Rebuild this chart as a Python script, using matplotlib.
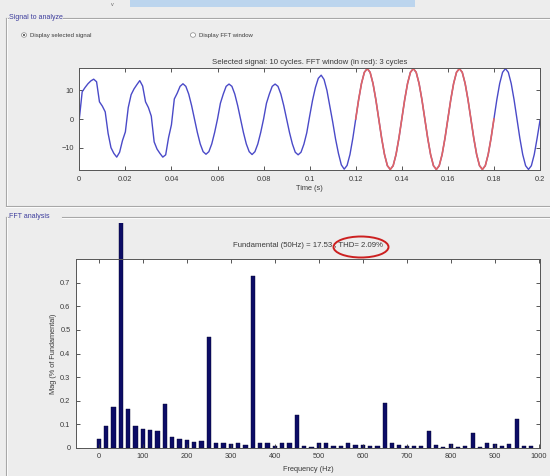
import numpy as np
import matplotlib
matplotlib.use("Agg")
import matplotlib.pyplot as plt
from matplotlib.patches import Ellipse, Rectangle, Circle
from matplotlib.lines import Line2D

plt.rcParams['font.family'] = ['Liberation Sans', 'DejaVu Sans']

# ---------------- data ----------------
# time signal, sampled every 1.25 ms from 0 to 0.2 s (values read from the picture)
sample_step_s = 0.00125
cycle1 = [0, 9.5, 11, 12.3, 13.3, 13.9, 13, 6, 4.5, 2.5, -5, -10, -12, -13.3, -11.6, -7.5]
cycle2 = [-4.5, 4, 8.5, 10.5, 12, 13.4, 11.5, 6, 4, 1, -8, -10.5, -12, -13.3, -12.5, -6.5]
cycle3 = [-2, 7, 9, 11.4, 12.3, 11.4, 8.7, 4.7, 0, -4.7, -8.7, -11.4, -12.3, -11.4, -8.7, -4.7]
cycle4 = [0, 5.5, 8.7, 11.4, 12.2, 11.4, 8.7, 4.7, 0, -4.7, -8.7, -11.4, -12.4, -11.4, -8.7, -4.7]
cycle5 = [0, 5.5, 8.7, 11.4, 12.2, 11.4, 8.7, 4.7, 0, -4.7, -8.7, -11.6, -12.5, -11.6, -8.8, -4.8]
cycle6 = [1, 6.5, 11, 14.2, 15.3, 13.8, 10, 4.5, -1, -7, -12, -16, -17.5, -16.2, -12.4, -6.7]
cycle7 = [0, 6.7, 12.4, 16.3, 17.6, 16.3, 12.4, 6.7, 0, -6.7, -12.4, -16.3, -17.6, -16.3, -12.4, -6.7]
cycle8 = [0, 6.7, 12.4, 16.3, 17.6, 16.3, 12.4, 6.7, 0, -6.7, -12.4, -16.3, -17.6, -16.3, -12.4, -6.7]
cycle9 = [0, 6.7, 12.4, 16.3, 17.6, 16.3, 12.4, 6.7, 0, -6.7, -12.4, -16.3, -17.6, -16.3, -12.4, -6.7]
cycle10 = [0, 6.7, 12.4, 16.3, 17.6, 16.3, 12.4, 6.7, 0, -6.7, -12.4, -16.3, -17.6, -16.3, -12.4, -6.7]
last_sample = [-0.5]
signal = (cycle1 + cycle2 + cycle3 + cycle4 + cycle5 + cycle6 + cycle7
          + cycle8 + cycle9 + cycle10 + last_sample)
time_s = np.arange(len(signal)) * sample_step_s
fft_window_s = (0.12, 0.18)

# FFT spectrum (% of fundamental), resolution 50/3 Hz
fundamental_hz = 50
window_cycles = 3
mag_pct = [0.037, 0.093, 0.172, 100, 0.164, 0.094, 0.079, 0.076, 0.070, 0.186,
           0.044, 0.037, 0.031, 0.023, 0.028, 0.470, 0.018, 0.020, 0.017, 0.020,
           0.011, 0.728, 0.018, 0.018, 0.008, 0.020, 0.021, 0.138, 0.007, 0.005,
           0.020, 0.018, 0.008, 0.008, 0.018, 0.011, 0.010, 0.008, 0.008, 0.188,
           0.018, 0.011, 0.008, 0.008, 0.008, 0.070, 0.010, 0.004, 0.014, 0.004,
           0.008, 0.062, 0.004, 0.018, 0.014, 0.008, 0.015, 0.123, 0.006, 0.006]
freq_hz = np.arange(len(mag_pct)) * fundamental_hz / window_cycles

time_ticks = [0, 0.02, 0.04, 0.06, 0.08, 0.1, 0.12, 0.14, 0.16, 0.18, 0.2]
time_ticklabels = ['0', '0.02', '0.04', '0.06', '0.08', '0.1', '0.12', '0.14', '0.16', '0.18', '0.2']
sig_yticks = [-10, 0, 10]
freq_ticks = [0, 100, 200, 300, 400, 500, 600, 700, 800, 900, 1000]
mag_yticks = [0, 0.1, 0.2, 0.3, 0.4, 0.5, 0.6, 0.7]
mag_yticklabels = ['0', '0.1', '0.2', '0.3', '0.4', '0.5', '0.6', '0.7']

title_top = 'Selected signal: 10 cycles. FFT window (in red): 3 cycles'
title_bottom = 'Fundamental (50Hz) = 17.53 , THD= 2.09%'

# ---------------- figure ----------------
W, H = 550, 476
BG = '#ededed'
fig = plt.figure(figsize=(W / 100, H / 100), dpi=100, facecolor=BG)

def fx(px):
    return px / W

def fy(py):
    return 1 - py / H

TXT = '#3a3a3a'
FS = 5.3

# top decoration strip
fig.add_artist(Rectangle((fx(130), fy(7)), fx(285), 7 / H, transform=fig.transFigure,
                         facecolor='#bcd5ee', edgecolor='none'))
fig.text(fx(112), fy(4), 'v', fontsize=4, color='#666666', ha='center', va='center')

# panels
PCOL = '#a8a8a8'
def hline(x0, x1, y):
    fig.add_artist(Line2D([fx(x0), fx(x1)], [fy(y), fy(y)], transform=fig.transFigure,
                          color=PCOL, lw=0.8))
    fig.add_artist(Line2D([fx(x0), fx(x1)], [fy(y + 1), fy(y + 1)], transform=fig.transFigure,
                          color='white', lw=0.6))

def vline(x, y0, y1):
    fig.add_artist(Line2D([fx(x), fx(x)], [fy(y0), fy(y1)], transform=fig.transFigure,
                          color=PCOL, lw=0.8))
    fig.add_artist(Line2D([fx(x + 1), fx(x + 1)], [fy(y0), fy(y1)], transform=fig.transFigure,
                          color='white', lw=0.6))

hline(6, 8, 18); hline(63, 550, 18); vline(6, 18, 206); hline(6, 550, 206)
hline(6, 8, 217); hline(62, 550, 217); vline(6, 217, 476)
fig.text(fx(9), fy(17.5), 'Signal to analyze', fontsize=5, color='#3c3c9c', va='center', ha='left')
fig.text(fx(9), fy(216.5), 'FFT analysis', fontsize=5, color='#3c3c9c', va='center', ha='left')

# radio buttons
fig.add_artist(Circle((fx(24), fy(35)), 2.6 / W, transform=fig.transFigure,
                      facecolor='white', edgecolor='#888888', lw=0.5))
fig.add_artist(Circle((fx(24), fy(35)), 1.1 / W, transform=fig.transFigure,
                      facecolor='#444444', edgecolor='none'))
fig.add_artist(Circle((fx(193), fy(35)), 2.6 / W, transform=fig.transFigure,
                      facecolor='white', edgecolor='#888888', lw=0.5))
fig.text(fx(30), fy(35), 'Display selected signal', fontsize=4.3, color=TXT, va='center')
fig.text(fx(199), fy(35), 'Display FFT window', fontsize=4.3, color=TXT, va='center')

# ---------------- top axes ----------------
ax1 = fig.add_axes([fx(79.3), fy(170), (540 - 79.3) / W, (170 - 68.3) / H])
ax1.set_facecolor('white')
ax1.plot(time_s, signal, color='#4a4ac8', lw=1.0)
sig_arr = np.array(signal)
mask = (time_s >= fft_window_s[0] - 1e-9) & (time_s <= fft_window_s[1] + 1e-9)
ax1.plot(time_s[mask], sig_arr[mask], color='#e26464', lw=1.2)
ax1.set_xlim(0, 0.2)
ax1.set_ylim(-17.8, 17.7)
ax1.set_xticks(time_ticks)
ax1.set_xticklabels(time_ticklabels)
ax1.set_yticks(sig_yticks)
ax1.tick_params(direction='in', top=True, right=True, labelsize=FS, colors=TXT,
                length=3, width=0.6, pad=4)
for s in ax1.spines.values():
    s.set_color('#555555'); s.set_linewidth(0.7)
ax1.set_title(title_top, fontsize=5.6, color=TXT, pad=3)
ax1.set_xlabel('Time (s)', fontsize=5.3, color=TXT, labelpad=2)

# ---------------- bottom axes ----------------
ax2 = fig.add_axes([fx(76), fy(447.7), (540 - 76) / W, (447.7 - 259.3) / H])
ax2.set_facecolor('white')
bars = ax2.bar(freq_hz, mag_pct, width=9.5, color='#0c0c66', edgecolor='#050530', lw=0.3)
clip = Rectangle((0, 0), 1, 1.194, transform=ax2.transAxes)
for b in bars:
    b.set_clip_on(True)
    b.set_clip_path(clip)
ax2.set_xlim(-52, 1003)
ax2.set_ylim(0, 0.8)
ax2.set_xticks(freq_ticks)
ax2.set_yticks(mag_yticks)
ax2.set_yticklabels(mag_yticklabels)
ax2.tick_params(direction='in', top=True, right=True, labelsize=FS, colors=TXT,
                length=3, width=0.6, pad=4)
for s in ax2.spines.values():
    s.set_color('#555555'); s.set_linewidth(0.7)
ax2.set_title(title_bottom, fontsize=5.6, color=TXT, pad=9)
ax2.set_xlabel('Frequency (Hz)', fontsize=5.3, color=TXT, labelpad=4)
ax2.set_ylabel('Mag (% of Fundamental)', fontsize=5.3, color=TXT, labelpad=2)

# red ellipse around THD
fig.add_artist(Ellipse((fx(361), fy(247)), 55 / W, 21 / H, transform=fig.transFigure,
                       facecolor='none', edgecolor='#cc2020', lw=1.4))

fig.savefig('out.png', dpi=100, facecolor=BG)
